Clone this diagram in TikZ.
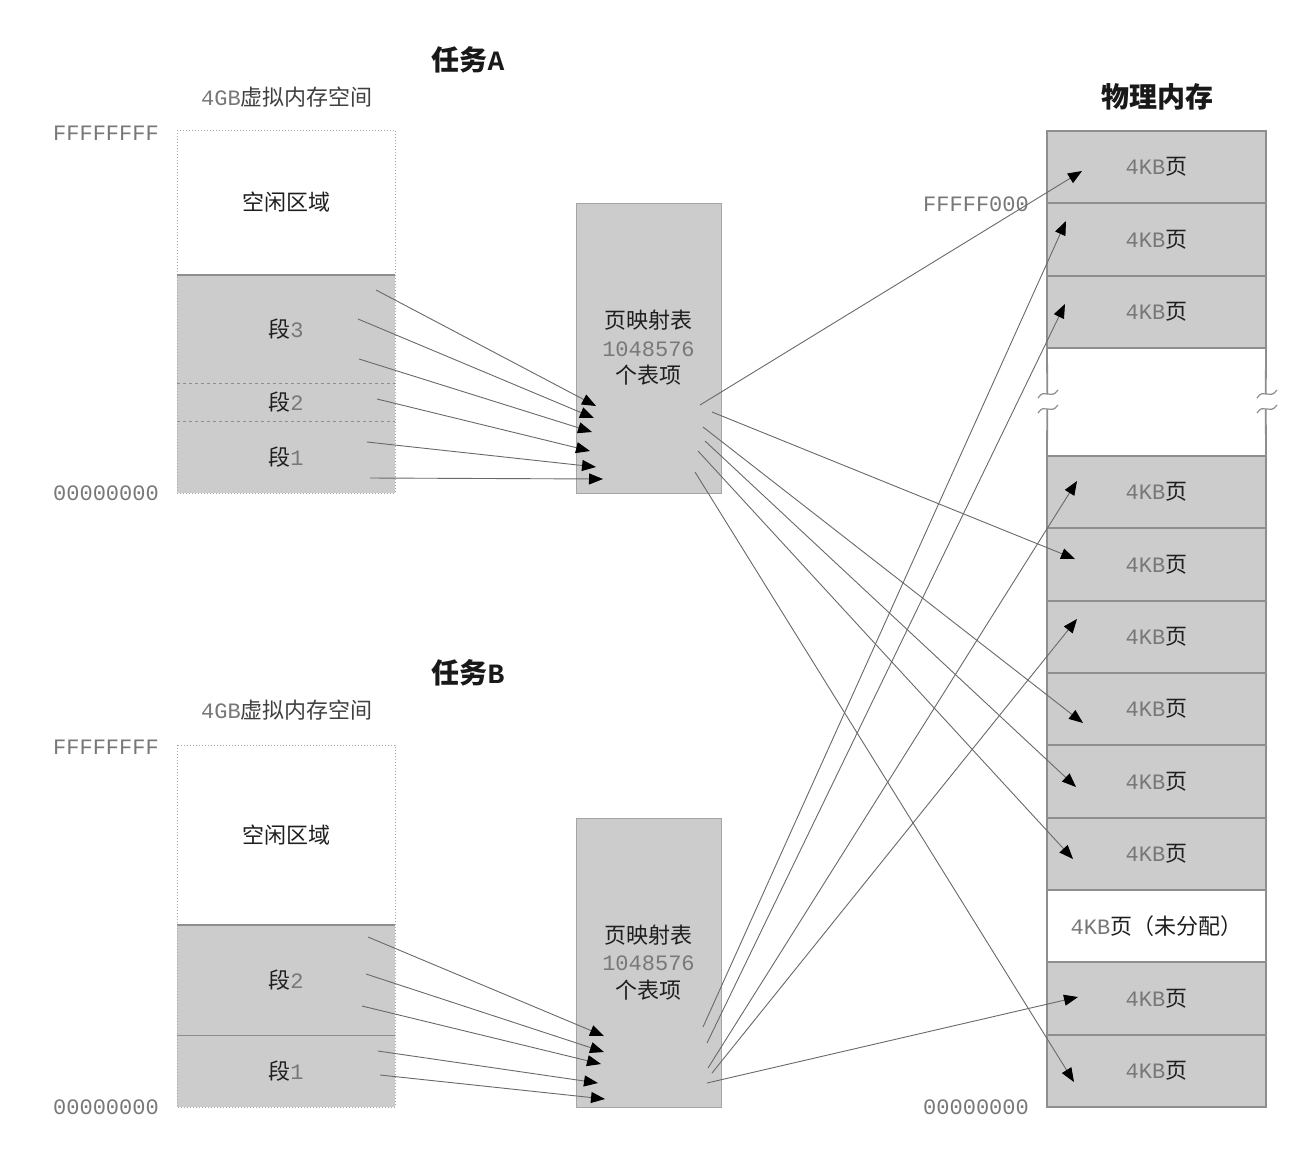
\documentclass[tikz,border=0pt]{standalone}
\usepackage{fontspec}
\setmainfont{Noto Sans CJK SC}
\setmonofont{Liberation Mono}
\usetikzlibrary{arrows.meta}
\definecolor{cellgray}{RGB}{204,204,204}
\definecolor{edgegray}{RGB}{142,142,142}
\definecolor{dotgray}{RGB}{165,165,165}
\definecolor{linegray}{RGB}{105,105,105}
\definecolor{textdark}{RGB}{30,30,30}
\definecolor{monogray}{RGB}{120,120,120}
\newcommand\monotxt[1]{{\ttfamily\color{monogray}#1}}
\begin{document}
\begin{tikzpicture}[x=1pt,y=-1pt,
  base/.style={inner sep=0pt, outer sep=0pt, text=textdark, font=\fontsize{22}{26}\selectfont},
  pagecell/.style={base, draw=edgegray, line width=1.8pt, fill=cellgray, minimum width=219pt, minimum height=72.33pt},
  freepage/.style={pagecell, fill=white},
  seg/.style={base, fill=cellgray, minimum width=218pt},
  freeseg/.style={base, fill=white, minimum width=218pt},
  ptable/.style={base, draw=edgegray!80, line width=0.8pt, fill=cellgray, minimum width=145pt, align=center, font=\fontsize{22}{27.5}\selectfont},
  addr/.style={base, font=\ttfamily\fontsize{22}{26}\selectfont, text=monogray},
  ttl/.style={base, font=\bfseries\fontsize{28}{32}\selectfont, text=black!90},
  sub/.style={base, text=textdark!85},
  maplink/.style={draw=linegray, line width=0.9pt, -{Triangle[length=14pt,width=11pt,color=black]}},
  brk/.style={draw=edgegray, line width=1.8pt}
]
\useasboundingbox[fill=white] (0,0) rectangle (1301,1163);

% ---------------- Task A ----------------
\node[ttl] (titA) at (468,60) {任务{\ttfamily A}};
\node[sub] (vsA) at (287,97) {\monotxt{4GB}虚拟内存空间};
\node[addr] (hiA) at (106,133) {FFFFFFFF};
\node[addr] (loA) at (106,493) {00000000};

\node[freeseg, minimum height=145pt] (afree) at (286,202.5) {空闲区域};
\node[seg, minimum height=108pt] (aseg3) at (286,329) {段\monotxt{3}};
\node[seg, minimum height=38pt] (aseg2) at (286,402) {段\monotxt{2}};
\node[seg, minimum height=72pt] (aseg1) at (286,457) {段\monotxt{1}};
\draw[dotted, dotgray, line width=1pt] (afree.north west) rectangle (aseg1.south east);
\draw[edgegray, line width=1.4pt] (aseg3.north west) -- (aseg3.north east);
\draw[dashed, edgegray, line width=1pt] (aseg3.south west) -- (aseg3.south east);
\draw[dashed, edgegray, line width=1pt] (aseg2.south west) -- (aseg2.south east);

\node[ptable, minimum height=290pt] (tabA) at (648.5,348) {页映射表\\\monotxt{1048576}\\个表项};

% ---------------- Task B ----------------
\node[ttl] (titB) at (468,673) {任务{\ttfamily B}};
\node[sub] (vsB) at (287,710) {\monotxt{4GB}虚拟内存空间};
\node[addr] (hiB) at (106,747) {FFFFFFFF};
\node[addr] (loB) at (106,1107) {00000000};

\node[freeseg, minimum height=180pt] (bfree) at (286,835) {空闲区域};
\node[seg, minimum height=110pt] (bseg2) at (286,980) {段\monotxt{2}};
\node[seg, minimum height=72pt] (bseg1) at (286,1071) {段\monotxt{1}};
\draw[dotted, dotgray, line width=1pt] (bfree.north west) rectangle (bseg1.south east);
\draw[edgegray, line width=1.4pt] (bseg2.north west) -- (bseg2.north east);
\draw[edgegray, line width=1pt] (bseg2.south west) -- (bseg2.south east);

\node[ptable, minimum height=289pt] (tabB) at (648.5,962.5) {页映射表\\\monotxt{1048576}\\个表项};

% ---------------- Physical memory ----------------
\node[ttl] (titP) at (1157,97) {物理内存};
\node[addr] (hiP) at (976,204) {FFFFF000};
\node[addr] (loP) at (976,1107) {00000000};

\node[pagecell] (p1) at (1156.5,167.2) {\monotxt{4KB}页};
\node[pagecell] (p2) at (1156.5,239.5) {\monotxt{4KB}页};
\node[pagecell] (p3) at (1156.5,311.8) {\monotxt{4KB}页};
\node[pagecell] (p4) at (1156.5,492.2) {\monotxt{4KB}页};
\node[pagecell] (p5) at (1156.5,564.5) {\monotxt{4KB}页};
\node[pagecell] (p6) at (1156.5,636.8) {\monotxt{4KB}页};
\node[pagecell] (p7) at (1156.5,709.2) {\monotxt{4KB}页};
\node[pagecell] (p8) at (1156.5,781.5) {\monotxt{4KB}页};
\node[pagecell] (p9) at (1156.5,853.8) {\monotxt{4KB}页};
\node[freepage] (p10) at (1156.5,926.2) {\monotxt{4KB}页（未分配）};
\node[pagecell] (p11) at (1156.5,998.5) {\monotxt{4KB}页};
\node[pagecell] (p12) at (1156.5,1070.8) {\monotxt{4KB}页};

% break in the column
\draw[brk] (p3.south west) -- (1047.25,394);
\draw[brk] (1047.25,409) -- (p4.north west);
\draw[brk] (p3.south east) -- (1265.75,394);
\draw[brk] (1265.75,409) -- (p4.north east);
\draw[edgegray, line width=1.2pt] (1038,398) .. controls (1045,387) and (1050,401) .. (1058,390);
\draw[edgegray, line width=1.2pt] (1038,413) .. controls (1045,402) and (1050,416) .. (1058,405);
\draw[edgegray, line width=1.2pt] (1257,398) .. controls (1264,387) and (1269,401) .. (1277,390);
\draw[edgegray, line width=1.2pt] (1257,413) .. controls (1264,402) and (1269,416) .. (1277,405);

% ---------------- connector ends ----------------
% A: virtual -> table
\coordinate (ai1s) at (376,290);  \coordinate (ai1e) at (596,406);
\coordinate (ai2s) at (358,319);  \coordinate (ai2e) at (594,418);
\coordinate (ai3s) at (359,359);  \coordinate (ai3e) at (592,432);
\coordinate (ai4s) at (377,399);  \coordinate (ai4e) at (590,451);
\coordinate (ai5s) at (367,442);  \coordinate (ai5e) at (596,467);
\coordinate (ai6s) at (370,478);  \coordinate (ai6e) at (603,479);
% A: table -> physical
\coordinate (ao1s) at (700,405);  \coordinate (ao1e) at (1082,171);
\coordinate (ao2s) at (712,412);  \coordinate (ao2e) at (1075,559);
\coordinate (ao3s) at (703,427);  \coordinate (ao3e) at (1083,723);
\coordinate (ao4s) at (705,441);  \coordinate (ao4e) at (1076,787);
\coordinate (ao5s) at (698,451);  \coordinate (ao5e) at (1073,859);
\coordinate (ao6s) at (695,472);  \coordinate (ao6e) at (1074,1082);
% B: virtual -> table
\coordinate (bi1s) at (368,937);  \coordinate (bi1e) at (604,1036);
\coordinate (bi2s) at (366,974);  \coordinate (bi2e) at (604,1052);
\coordinate (bi3s) at (362,1006); \coordinate (bi3e) at (601,1064);
\coordinate (bi4s) at (378,1051); \coordinate (bi4e) at (598,1083);
\coordinate (bi5s) at (380,1075); \coordinate (bi5e) at (605,1099);
% B: table -> physical
\coordinate (bo1s) at (703,1027); \coordinate (bo1e) at (1066,221);
\coordinate (bo2s) at (707,1043); \coordinate (bo2e) at (1065,304);
\coordinate (bo3s) at (708,1068); \coordinate (bo3e) at (1077,481);
\coordinate (bo4s) at (712,1073); \coordinate (bo4e) at (1077,619);
\coordinate (bo5s) at (707,1083); \coordinate (bo5e) at (1078,997);

\foreach \n in {ai1,ai2,ai3,ai4,ai5,ai6,ao1,ao2,ao3,ao4,ao5,ao6,bi1,bi2,bi3,bi4,bi5,bo1,bo2,bo3,bo4,bo5}
  \draw[maplink] (\n s) -- (\n e);
\end{tikzpicture}
\end{document}
